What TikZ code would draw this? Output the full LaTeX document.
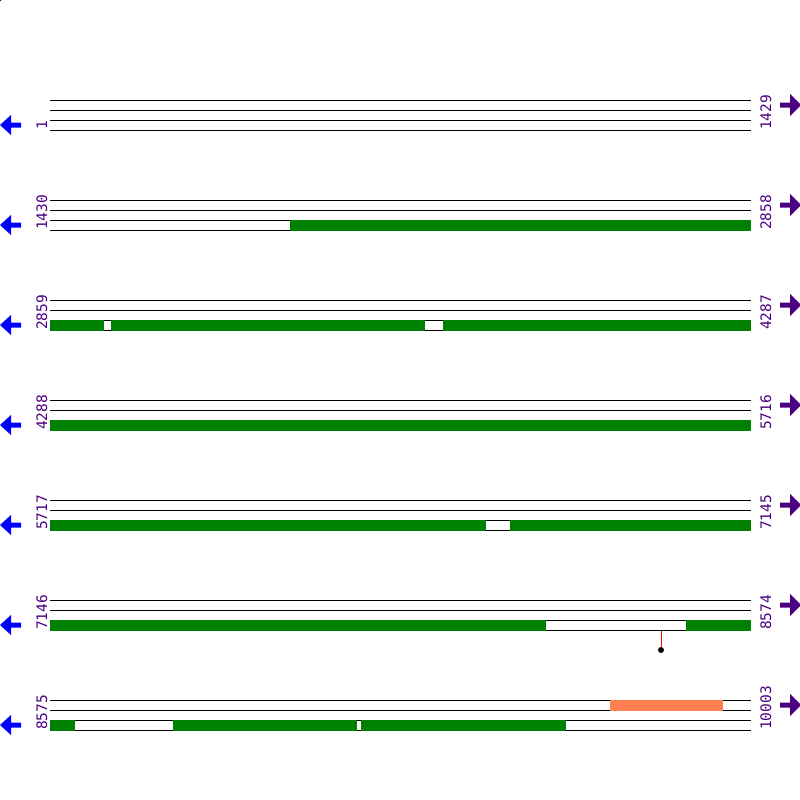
\documentclass[tikz,border=0pt]{standalone}
\usepackage{fontspec}
\setmonofont{DejaVu Sans Mono}
\usepackage{xcolor}
\usepackage{tikz}
\usetikzlibrary{arrows.meta,positioning,calc}
\definecolor{seqpurple}{RGB}{75,0,130}
\definecolor{matchgreen}{RGB}{0,128,0}
\definecolor{hitorange}{RGB}{255,127,80}

\begin{document}
\begin{tikzpicture}[
x=1pt, y=-1pt,
seqline/.style={black, line width=1pt},
hit/.style={fill=matchgreen, draw=none},
feat/.style={fill=hitorange, draw=none},
posnum/.style={font=\ttfamily\fontsize{14.5}{14.5}\selectfont, text=seqpurple, rotate=90, anchor=base west, inner sep=0pt},
leftarr/.style={fill=blue, draw=none},
rightarr/.style={fill=seqpurple, draw=none},
snpdot/.style={circle, fill=black, inner sep=0pt, minimum size=6pt}
]
\useasboundingbox (0,0) rectangle (800,800);
\fill (0,0) circle (1.5);

\foreach \r/\s/\e in {0/1/1429, 1/1430/2858, 2/2859/4287, 3/4288/5716, 4/5717/7145, 5/7146/8574, 6/8575/10003} {
  \begin{scope}[shift={(0,100*\r)}]
    \foreach \l in {0,1,2,3}
      \draw[seqline] (50,100.5+10*\l) -- (751,100.5+10*\l);
    \node[posnum] (start\r) at (47,130) {\s};
    \node[posnum] (end\r) at (771,130) {\e};
    \fill[leftarr] (0,125) -- (11,115) -- (11,122.5) -- (21,122.5) -- (21,127.5) -- (11,127.5) -- (11,135) -- cycle;
    \fill[rightarr] (801,105) -- (790,94) -- (790,102.5) -- (780,102.5) -- (780,107.5) -- (790,107.5) -- (790,116) -- cycle;
  \end{scope}
}

\fill[hit] (290,219.5) rectangle (751,230.5);
\fill[hit] (50,319.5) rectangle (104,330.5);
\fill[hit] (111,319.5) rectangle (425,330.5);
\fill[hit] (443,319.5) rectangle (751,330.5);
\fill[hit] (50,419.5) rectangle (751,430.5);
\fill[hit] (50,519.5) rectangle (486,530.5);
\fill[hit] (510,519.5) rectangle (751,530.5);
\fill[hit] (50,619.5) rectangle (546,630.5);
\fill[hit] (686,619.5) rectangle (751,630.5);
\fill[hit] (50,719.5) rectangle (75,730.5);
\fill[hit] (173,719.5) rectangle (357,730.5);
\fill[hit] (361,719.5) rectangle (566,730.5);
\fill[feat] (610,699.5) rectangle (723,710.5);

\coordinate (snpbase) at (661,631);
\node[snpdot] (snp) at (661,650) {};
\draw[red, line width=1pt] (snpbase) -- (snp);
\end{tikzpicture}
\end{document}
